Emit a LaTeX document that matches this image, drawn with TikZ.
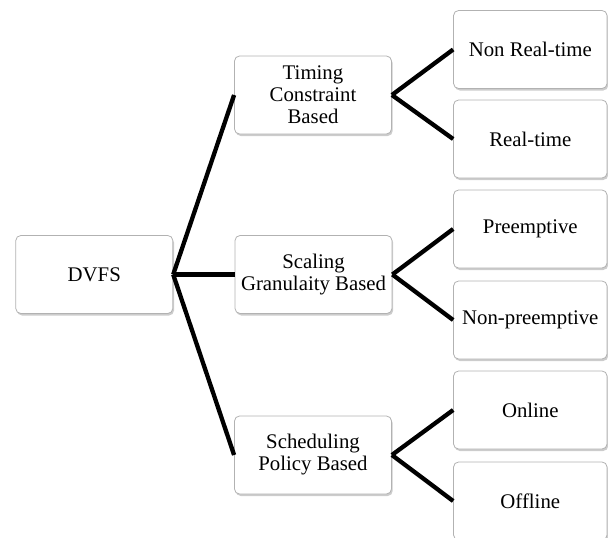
\documentclass[tikz,border=0pt]{standalone}
\usepackage{fontspec}
\setmainfont{Liberation Serif}
\usepackage{tikz}
\usetikzlibrary{shadows}
\tikzstyle{bag} = [draw=gray!60, line width=0.8pt, fill=white, rounded corners=5pt,
	drop shadow={shadow xshift=1.2pt, shadow yshift=-2pt, opacity=0.4},
	align=center, minimum width=157pt, minimum height=78pt,
	font=\fontsize{20.8}{22}\selectfont]
\tikzstyle{leaf} = [bag, minimum width=153.5pt]
\tikzstyle{branch} = [line width=4.3pt]

\begin{document}
\begin{tikzpicture}[x=1pt, y=-1pt]
	\useasboundingbox (0,0) rectangle (608,538);
	% root
	\node[bag] (dvfs) at (94.3,274.5) {DVFS};
	% middle level
	\node[bag] (timing) at (313,95) {Timing\\Constraint\\Based};
	\node[bag] (scaling) at (313.5,274.5) {Scaling\\Granulaity Based};
	\node[bag] (sched) at (313,455) {Scheduling\\Policy Based};
	% leaves
	\node[leaf] (nrt) at (530.3,49.5) {Non Real-time};
	\node[leaf] (rt) at (530.3,139) {Real-time};
	\node[leaf] (pre) at (530.3,229) {Preemptive};
	\node[leaf] (npre) at (530.3,320) {Non-preemptive};
	\node[leaf] (online) at (530.3,410) {Online};
	\node[leaf] (offline) at (530.3,501) {Offline};
	% branches
	\draw[branch] (dvfs.east) -- (timing.west);
	\draw[branch] (dvfs.east) -- (scaling.west);
	\draw[branch] (dvfs.east) -- (sched.west);
	\draw[branch] (timing.east) -- (nrt.west);
	\draw[branch] (timing.east) -- (rt.west);
	\draw[branch] (scaling.east) -- (pre.west);
	\draw[branch] (scaling.east) -- (npre.west);
	\draw[branch] (sched.east) -- (online.west);
	\draw[branch] (sched.east) -- (offline.west);
\end{tikzpicture}
\end{document}
